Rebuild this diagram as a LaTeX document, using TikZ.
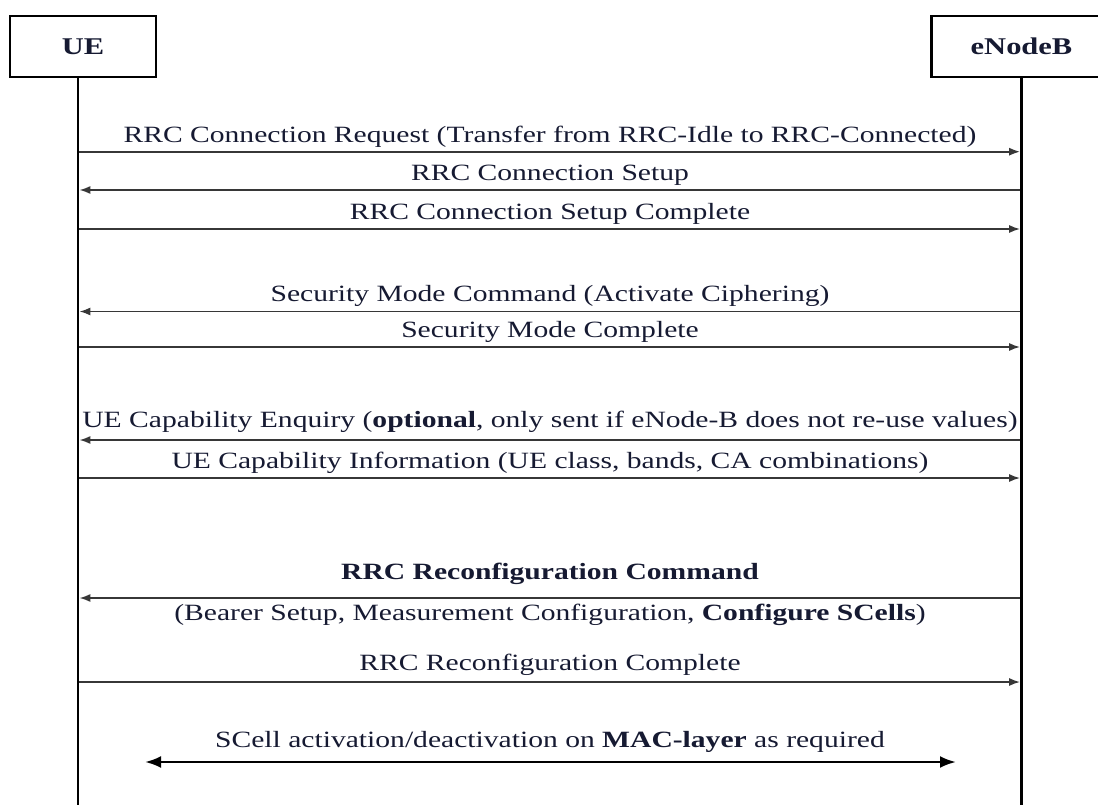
\documentclass[tikz,border=0pt]{standalone}
\usepackage{fontspec}
\setmainfont{Liberation Serif}[FakeStretch=1.27]
\usetikzlibrary{arrows.meta}
\definecolor{txt}{RGB}{22,26,50}
\definecolor{msgline}{RGB}{55,55,55}
\begin{document}
\begin{tikzpicture}[x=1pt,y=-1pt,
  actor/.style={draw=black,line width=2.6pt,minimum height=61pt,inner sep=0pt,font=\fontsize{24}{27}\selectfont\bfseries,text=txt},
  life/.style={line width=2.6pt,draw=black},
  msg/.style={line width=1.8pt,draw=msgline,-{Latex[length=11pt,width=8pt]}},
  lbl/.style={anchor=base,inner sep=0pt,font=\fontsize{23.3}{26}\selectfont,text=txt},
  both/.style={line width=2.6pt,draw=black,{Latex[length=16pt,width=12pt]}-{Latex[length=16pt,width=12pt]}}]
\clip (0,0) rectangle (1098,805);
\fill[white] (0,0) rectangle (1098,805);
% actors
\node[actor,minimum width=146pt] (ue) at (83,46.5) {UE};
\node[actor,minimum width=180pt] (enb) at (1021.5,46.5) {eNodeB};
\coordinate (ueend) at (78,806);
\coordinate (enbend) at (1021.5,806);
\draw[life] (78,77) -- (ueend);
\draw[life] (enb.south) -- (enbend);
% lifeline points
\foreach \n/\y in {1/151.7,2/190,3/229,4/311.5,5/347,6/440,7/478,8/598,9/682}{
  \coordinate (u\n) at (79.3,\y);
  \coordinate (e\n) at (1020.2,\y);
}
\draw[msg] (u1) -- (e1);
\draw[msg] (e2) -- (u2);
\draw[msg] (u3) -- (e3);
\draw[msg] (e4) -- (u4);
\draw[msg] (u5) -- (e5);
\draw[msg] (e6) -- (u6);
\draw[msg] (u7) -- (e7);
\draw[msg] (e8) -- (u8);
\draw[msg] (u9) -- (e9);
% labels
\node[lbl] (l1) at (550,142.5) {RRC Connection Request (Transfer from RRC-Idle to RRC-Connected)};
\node[lbl] (l2) at (550,181) {RRC Connection Setup};
\node[lbl] (l3) at (550,219.5) {RRC Connection Setup Complete};
\node[lbl] (l4) at (550,301.5) {Security Mode Command (Activate Ciphering)};
\node[lbl] (l5) at (550,337.5) {Security Mode Complete};
\node[lbl] (l6) at (550,427) {UE Capability Enquiry (\textbf{optional}, only sent if eNode-B does not re-use values)};
\node[lbl] (l7) at (550,468) {UE Capability Information (UE class, bands, CA combinations)};
\node[lbl] (l8) at (550,579) {\textbf{RRC Reconfiguration Command}};
\node[lbl] (l8b) at (550,620) {(Bearer Setup, Measurement Configuration, \textbf{Configure SCells})};
\node[lbl] (l9) at (550,670) {RRC Reconfiguration Complete};
% double arrow
\coordinate (da) at (145,762);
\coordinate (db) at (956,762);
\draw[both] (da) -- (db);
\node[lbl] (l10) at (550,747) {SCell activation/deactivation on \textbf{MAC-layer} as required};
\end{tikzpicture}
\end{document}
